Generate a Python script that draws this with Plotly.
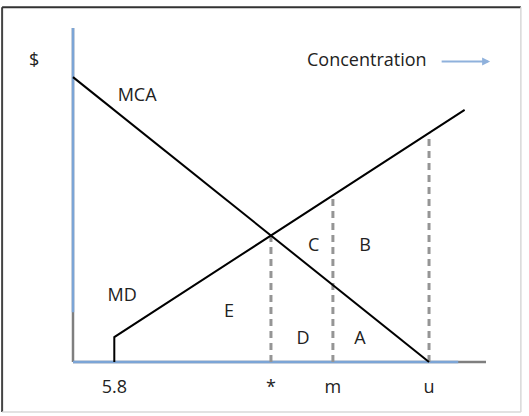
import plotly.graph_objects as go

# conceptual units: concentration on x, $ on y
mca_x = [0, 50]
mca_y = [40, 0]

md_x = [5.8, 5.8, 55]
md_y = [0, 3.5, 35.4]

# vertical guide lines at *, m and u (bottom 0, top where they meet the curves)
guide_x = [27.8, 36.5, 50]
guide_top = [17.6, 23.4, 32.1]

tick_vals = [5.8, 27.8, 36.5, 50]
tick_text = ["5.8", "*", "m", "u"]

# axes: gray base, partly covered by blue
x_axis_end = 58.0
y_axis_top = 46.9
blue_x_end = 54.1
blue_y_start = 7.0

area_labels = ["C", "B", "E", "D", "A"]
area_x = [33.8, 41.0, 21.9, 32.3, 40.3]
area_y = [16.2, 16.2, 6.9, 3.1, 3.1]

curve_labels = ["MCA", "MD"]
curve_x = [9.0, 6.9]
curve_y = [37.3, 9.2]

FONT = "'Open Sans', sans-serif"
BLUE = "#7ca5d6"
GRAY = "#7f7f7f"
TXT = "#222"

fig = go.Figure()

# gray axis lines first, blue on top
fig.add_trace(go.Scatter(x=[0, x_axis_end], y=[0, 0], mode="lines",
                         line=dict(color=GRAY, width=2.5), hoverinfo="skip"))
fig.add_trace(go.Scatter(x=[0, 0], y=[0, y_axis_top], mode="lines",
                         line=dict(color=GRAY, width=2.5), hoverinfo="skip"))
fig.add_trace(go.Scatter(x=[0, blue_x_end], y=[0, 0], mode="lines",
                         line=dict(color=BLUE, width=2.5), hoverinfo="skip"))
fig.add_trace(go.Scatter(x=[0, 0], y=[blue_y_start, y_axis_top], mode="lines",
                         line=dict(color=BLUE, width=2.5), hoverinfo="skip"))

for gx, gt in zip(guide_x, guide_top):
    fig.add_trace(go.Scatter(x=[gx, gx], y=[0, gt], mode="lines",
                             line=dict(color="#959595", width=3, dash="7px,5px"),
                             hoverinfo="skip"))

fig.add_trace(go.Scatter(x=mca_x, y=mca_y, mode="lines",
                         line=dict(color="black", width=2), hoverinfo="skip"))
fig.add_trace(go.Scatter(x=md_x, y=md_y, mode="lines",
                         line=dict(color="black", width=2), hoverinfo="skip"))

fig.add_trace(go.Scatter(x=area_x + curve_x, y=area_y + curve_y, mode="text",
                         text=area_labels + curve_labels,
                         textfont=dict(family=FONT, size=18, color=TXT),
                         hoverinfo="skip"))

# label for $ axis, concentration text and arrow
fig.add_annotation(x=-0.088, y=0.907, xref="paper", yref="paper", text="$",
                   xanchor="center", yanchor="middle", showarrow=False,
                   font=dict(family=FONT, size=18, color=TXT))
fig.add_annotation(x=0.862, y=0.907, xref="paper", yref="paper", text="Concentration",
                   xanchor="right", yanchor="middle", showarrow=False,
                   font=dict(family=FONT, size=18, color=TXT))
fig.add_annotation(x=1.01, y=0.9, xref="paper", yref="paper", text="",
                   showarrow=True, ax=-50, ay=0, arrowhead=2, arrowsize=0.8,
                   arrowwidth=2, arrowcolor="#8fb1dc")

# outer frame
fig.add_shape(type="line", xref="paper", yref="paper", x0=-0.166, x1=-0.166,
              y0=-0.143, y1=1.062, line=dict(color="#444", width=2))
fig.add_shape(type="line", xref="paper", yref="paper", x0=-0.166, x1=1.084,
              y0=1.062, y1=1.062, line=dict(color="#333", width=2))
fig.add_shape(type="line", xref="paper", yref="paper", x0=1.084, x1=1.084,
              y0=-0.143, y1=1.062, line=dict(color="#d8d8d8", width=1.5))
fig.add_shape(type="line", xref="paper", yref="paper", x0=-0.166, x1=1.084,
              y0=-0.143, y1=-0.143, line=dict(color="#d8d8d8", width=1.5))

fig.update_xaxes(range=[-0.281, 58.0], showgrid=False, zeroline=False, showline=False,
                 tickvals=tick_vals, ticktext=tick_text,
                 ticks="outside", ticklen=6, tickcolor="rgba(0,0,0,0)",
                 tickfont=dict(family=FONT, size=18, color=TXT))
fig.update_yaxes(range=[-0.281, 46.9], showgrid=False, zeroline=False, showline=False,
                 showticklabels=False, ticks="")

fig.update_layout(width=529, height=416, showlegend=False,
                  margin=dict(l=71, r=43, t=28, b=52),
                  paper_bgcolor="white", plot_bgcolor="white")

fig.write_html("out.html", config={"displayModeBar": False},
               post_script="document.body.style.margin='0';")
